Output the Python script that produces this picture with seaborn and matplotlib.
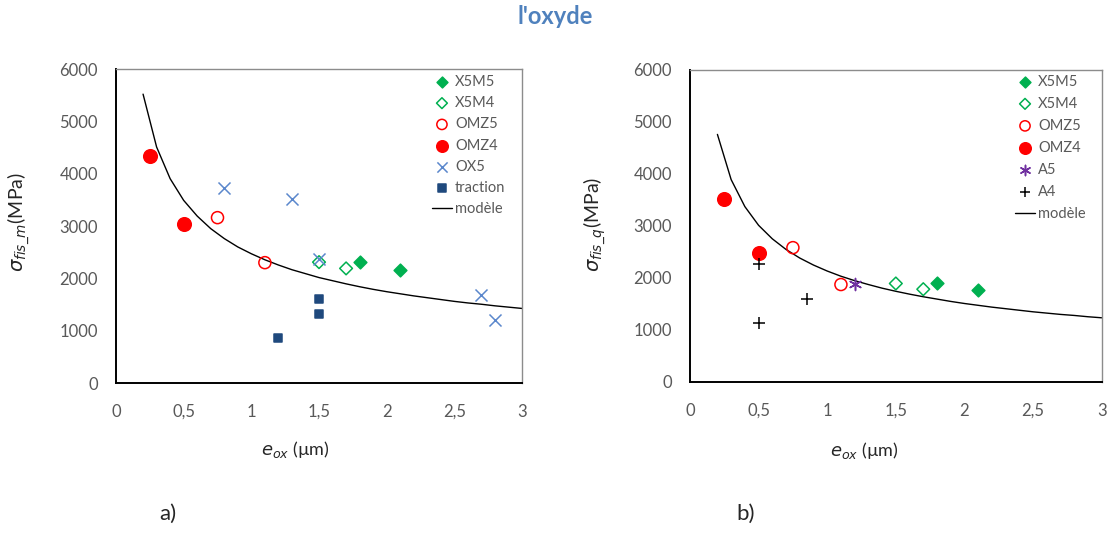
"""Fracture stress vs oxide thickness, two panels."""
import matplotlib
matplotlib.use('Agg')
import matplotlib.pyplot as plt
import seaborn as sns

# model curve
model_x = [0.2, 0.3, 0.4, 0.5, 0.6, 0.7, 0.8, 0.9, 1.0, 1.1, 1.2, 1.3, 1.4, 1.5,
           1.6, 1.7, 1.8, 1.9, 2.0, 2.1, 2.2, 2.3, 2.4, 2.5, 2.6, 2.7, 2.8, 2.9, 3.0]
model_a = [5520, 4510, 3905, 3490, 3190, 2950, 2760, 2600, 2470, 2355, 2255, 2165,
           2090, 2015, 1955, 1895, 1840, 1790, 1745, 1705, 1665, 1630, 1595, 1560,
           1530, 1505, 1475, 1450, 1425]
model_b = [4760, 3890, 3370, 3010, 2750, 2545, 2380, 2245, 2130, 2030, 1945, 1870,
           1800, 1740, 1685, 1635, 1590, 1545, 1505, 1470, 1435, 1405, 1375, 1345,
           1320, 1295, 1275, 1250, 1230]

# panel a
a_x5m5_x, a_x5m5_y = [1.8, 2.1], [2320, 2160]
a_x5m4_x, a_x5m4_y = [1.5, 1.7], [2310, 2190]
a_omz5_x, a_omz5_y = [0.75, 1.1], [3160, 2300]
a_omz4_x, a_omz4_y = [0.25, 0.5], [4330, 3030]
a_ox5_x, a_ox5_y = [0.8, 1.3, 1.5, 2.7, 2.8], [3725, 3510, 2370, 1690, 1200]
a_trac_x, a_trac_y = [1.2, 1.5, 1.5], [860, 1600, 1310]

# panel b
b_x5m5_x, b_x5m5_y = [1.8, 2.1], [1900, 1760]
b_x5m4_x, b_x5m4_y = [1.5, 1.7], [1890, 1780]
b_omz5_x, b_omz5_y = [0.75, 1.1], [2580, 1870]
b_omz4_x, b_omz4_y = [0.25, 0.5], [3520, 2470]
b_a5_x, b_a5_y = [1.2], [1880]
b_a4_x, b_a4_y = [0.5, 0.5, 0.85], [2270, 1120, 1600]

x_ticks = [0, 0.5, 1, 1.5, 2, 2.5, 3]
x_tick_labels = ['0', '0,5', '1', '1,5', '2', '2,5', '3']
y_ticks = [0, 1000, 2000, 3000, 4000, 5000, 6000]

STYLES = {
    'X5M5': dict(marker='D', color='#00B050', filled=True, s=42),
    'X5M4': dict(marker='D', color='#00B050', filled=False, s=42),
    'OMZ5': dict(marker='o', color='#FF0000', filled=False, s=75),
    'OMZ4': dict(marker='o', color='#FF0000', filled=True, s=95),
    'OX5': dict(marker='x', color='#5B87CC', filled=True, s=75),
    'traction': dict(marker='s', color='#1F497D', filled=True, s=36),
    'A5': dict(marker=(6, 2, 0), color='#7030A0', filled=True, s=75),
    'A4': dict(marker='+', color='#000000', filled=True, s=65),
}

sns.set_style('white')
plt.rcParams['font.family'] = ['Lato', 'DejaVu Sans']
plt.rcParams['mathtext.fontset'] = 'dejavusans'

fig = plt.figure(figsize=(11.1, 5.33), dpi=100)
ax_a = fig.add_axes([0.1045, 0.2814, 0.3658, 0.5891])
ax_b = fig.add_axes([0.6216, 0.2839, 0.3709, 0.5848])


def draw_panel(ax, series, mx, my, ylabel, ylab_xy, xlab_xy, leg_xy, spacing):
    for name, xs, ys in series:
        st = STYLES[name]
        kw = dict(marker=st['marker'], s=st['s'], color=st['color'],
                  edgecolor=st['color'], linewidth=1.1, zorder=3)
        if not st['filled']:
            kw['facecolor'] = 'none'
        sns.scatterplot(x=xs, y=ys, ax=ax, label=name, **kw)
    sns.lineplot(x=mx, y=my, ax=ax, color='black', linewidth=1.0,
                 label='modèle', zorder=1)

    ax.set_xlim(0, 3)
    ax.set_ylim(0, 6000)
    ax.set_xticks(x_ticks)
    ax.set_xticklabels(x_tick_labels)
    ax.set_yticks(y_ticks)
    ax.tick_params(direction='in', length=5, width=1, colors='#404040',
                   labelcolor='#595959', labelsize=12)
    ax.tick_params(axis='y', pad=13)
    ax.tick_params(axis='x', pad=15)
    for side in ['left', 'bottom']:
        ax.spines[side].set_color('black')
        ax.spines[side].set_linewidth(1.4)
    for side in ['top', 'right']:
        ax.spines[side].set_color('#8C8C8C')
        ax.spines[side].set_linewidth(1.0)

    ax.set_xlabel(r'$e_{ox}$ (µm)', fontsize=13)
    ax.set_ylabel(ylabel, fontsize=14)
    ax.yaxis.set_label_coords(*ylab_xy)
    ax.xaxis.set_label_coords(*xlab_xy)
    ax.legend(loc='upper left', bbox_to_anchor=leg_xy, borderpad=0,
              borderaxespad=0, frameon=False, fontsize=10.5, handlelength=1.4,
              markerscale=0.85, handletextpad=0.2, labelspacing=spacing,
              labelcolor='#595959')


draw_panel(ax_a, [('X5M5', a_x5m5_x, a_x5m5_y), ('X5M4', a_x5m4_x, a_x5m4_y),
                  ('OMZ5', a_omz5_x, a_omz5_y), ('OMZ4', a_omz4_x, a_omz4_y),
                  ('OX5', a_ox5_x, a_ox5_y), ('traction', a_trac_x, a_trac_y)],
           model_x, model_a, r'$\sigma_{fis\_m}$(MPa)',
           (-0.207, 0.513), (0.441, -0.178), (0.7776, 0.982), 0.5)
draw_panel(ax_b, [('X5M5', b_x5m5_x, b_x5m5_y), ('X5M4', b_x5m4_x, b_x5m4_y),
                  ('OMZ5', b_omz5_x, b_omz5_y), ('OMZ4', b_omz4_x, b_omz4_y),
                  ('A5', b_a5_x, b_a5_y), ('A4', b_a4_x, b_a4_y)],
           model_x, model_b, r'$\sigma_{fis\_q}$(MPa)',
           (-0.20, 0.503), (0.423, -0.187), (0.789, 0.985), 0.55)

fig.text(0.5, 1 - 17 / 533, "l'oxyde", ha='center', va='center', fontsize=17,
         fontweight='bold', color='#4F81BD')
fig.text(168 / 1110, 1 - 514 / 533, 'a)', ha='center', va='center', fontsize=16)
fig.text(746 / 1110, 1 - 514 / 533, 'b)', ha='center', va='center', fontsize=16)

fig.savefig('out.png', dpi=100)
